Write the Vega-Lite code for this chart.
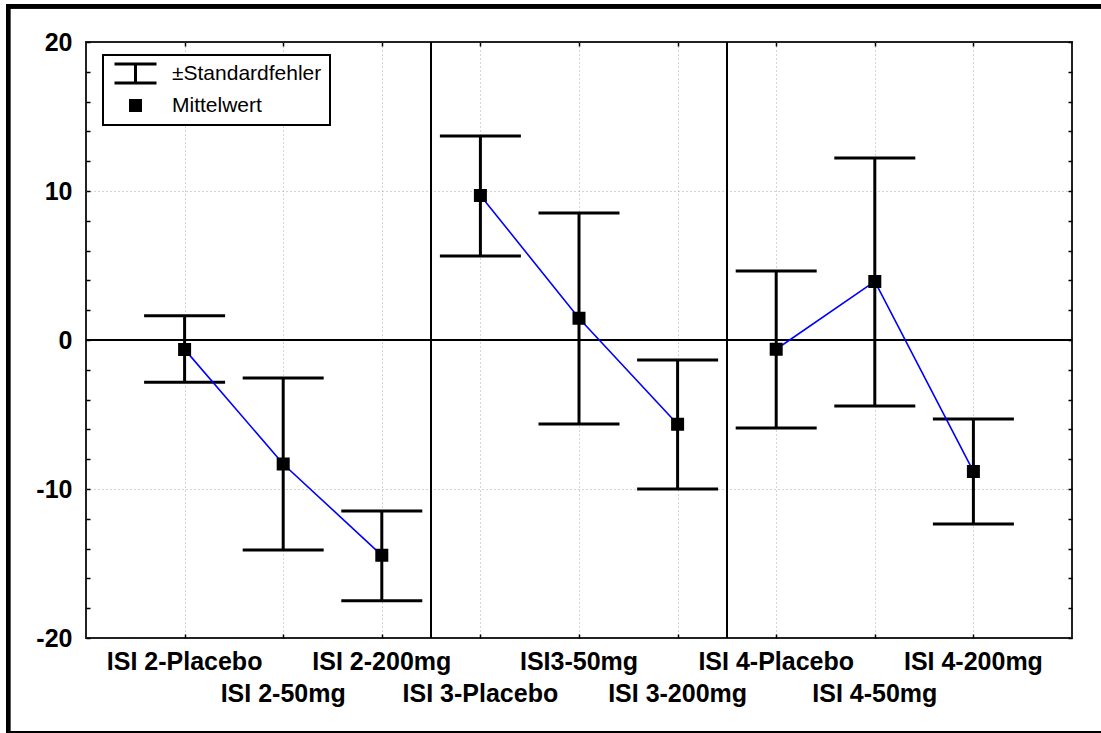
{
  "$schema": "https://vega.github.io/schema/vega-lite/v6.json",
  "width": 986,
  "height": 596,
  "autosize": {"type": "none"},
  "padding": {"left": 86, "top": 42, "right": 29, "bottom": 95},
  "background": "white",
  "config": {
    "view": {"stroke": "#222222", "strokeWidth": 2},
    "font": "Liberation Sans",
    "axis": {"domain": false},
    "legend": {"strokeWidth": 2}
  },
  "data": {
    "values": [
      {"cond": "ISI 2-Placebo", "group": "ISI 2", "idx": 1, "mean": -0.63, "lo": -2.84, "hi": 1.63},
      {"cond": "ISI 2-50mg", "group": "ISI 2", "idx": 2, "mean": -8.32, "lo": -14.09, "hi": -2.55},
      {"cond": "ISI 2-200mg", "group": "ISI 2", "idx": 3, "mean": -14.45, "lo": -17.5, "hi": -11.48},
      {"cond": "ISI 3-Placebo", "group": "ISI 3", "idx": 4, "mean": 9.7, "lo": 5.64, "hi": 13.69},
      {"cond": "ISI3-50mg", "group": "ISI 3", "idx": 5, "mean": 1.46, "lo": -5.64, "hi": 8.52},
      {"cond": "ISI 3-200mg", "group": "ISI 3", "idx": 6, "mean": -5.65, "lo": -10.0, "hi": -1.34},
      {"cond": "ISI 4-Placebo", "group": "ISI 4", "idx": 7, "mean": -0.62, "lo": -5.9, "hi": 4.63},
      {"cond": "ISI 4-50mg", "group": "ISI 4", "idx": 8, "mean": 3.93, "lo": -4.43, "hi": 12.21},
      {"cond": "ISI 4-200mg", "group": "ISI 4", "idx": 9, "mean": -8.82, "lo": -12.35, "hi": -5.3}
    ]
  },
  "resolve": {"axis": {"x": "independent", "y": "independent"}},
  "layer": [
    {
      "mark": {"type": "rule", "color": "black", "strokeWidth": 3},
      "encoding": {
        "x": {
          "field": "idx", "type": "quantitative",
          "scale": {"domain": [0, 10], "nice": false, "zero": false},
          "axis": {
            "orient": "bottom", "title": null, "values": [1, 2, 3, 4, 5, 6, 7, 8, 9],
            "labels": false, "tickSize": -4, "tickColor": "black", "tickWidth": 1.5,
            "grid": true, "gridDash": [1, 3], "gridColor": "#a8a8a8", "gridWidth": 1
          }
        },
        "y": {
          "field": "lo", "type": "quantitative",
          "scale": {"domain": [-20, 20], "nice": false, "zero": false},
          "axis": {
            "orient": "left", "title": null,
            "values": [-20, -18, -16, -14, -12, -10, -8, -6, -4, -2, 0, 2, 4, 6, 8, 10, 12, 14, 16, 18, 20],
            "labelExpr": "datum.value % 10 == 0 ? '' + datum.value : ''",
            "labelFont": "Liberation Sans", "labelFontSize": 25, "labelFontWeight": "bold",
            "labelColor": "black", "labelPadding": 18, "labelOverlap": false, "labelFlush": false, "labelBound": false,
            "tickSize": -4, "tickColor": "black", "tickWidth": 1.5,
            "grid": true, "gridDash": [1, 3], "gridColor": "#a8a8a8", "gridWidth": 1,
            "gridOpacity": {"condition": {"test": "abs(datum.value) == 10", "value": 1}, "value": 0}
          }
        },
        "y2": {"field": "hi"}
      }
    },
    {
      "mark": {"type": "tick", "orient": "horizontal", "size": 81, "thickness": 3, "color": "black", "opacity": 1},
      "encoding": {
        "x": {
          "field": "idx", "type": "quantitative",
          "scale": {"domain": [0, 10], "nice": false, "zero": false},
          "axis": {
            "orient": "top", "title": null, "values": [1, 2, 3, 4, 5, 6, 7, 8, 9],
            "labels": false, "tickSize": -4, "tickColor": "black", "tickWidth": 1.5, "grid": false
          }
        },
        "y": {
          "field": "lo", "type": "quantitative",
          "scale": {"domain": [-20, 20], "nice": false, "zero": false},
          "axis": {
            "orient": "right", "title": null,
            "values": [-20, -18, -16, -14, -12, -10, -8, -6, -4, -2, 0, 2, 4, 6, 8, 10, 12, 14, 16, 18, 20],
            "labels": false, "tickSize": -4, "tickColor": "black", "tickWidth": 1.5, "grid": false
          }
        }
      }
    },
    {
      "mark": {"type": "tick", "orient": "horizontal", "size": 81, "thickness": 3, "color": "black", "opacity": 1},
      "encoding": {
        "x": {"field": "idx", "type": "quantitative", "scale": {"domain": [0, 10], "nice": false, "zero": false}, "axis": null},
        "y": {"field": "hi", "type": "quantitative", "scale": {"domain": [-20, 20], "nice": false, "zero": false}, "axis": null}
      }
    },
    {
      "mark": {"type": "rule", "color": "black", "strokeWidth": 1.5},
      "encoding": {
        "y": {"datum": 0, "type": "quantitative", "scale": {"domain": [-20, 20], "nice": false, "zero": false}, "axis": null}
      }
    },
    {
      "mark": {"type": "rule", "color": "black", "strokeWidth": 1.5},
      "encoding": {
        "x": {"datum": 3.5, "type": "quantitative", "scale": {"domain": [0, 10], "nice": false, "zero": false}, "axis": null}
      }
    },
    {
      "mark": {"type": "rule", "color": "black", "strokeWidth": 1.5},
      "encoding": {
        "x": {"datum": 6.5, "type": "quantitative", "scale": {"domain": [0, 10], "nice": false, "zero": false}, "axis": null}
      }
    },
    {
      "mark": {"type": "line", "color": "#0000ff", "strokeWidth": 1.6},
      "encoding": {
        "x": {"field": "idx", "type": "quantitative", "scale": {"domain": [0, 10], "nice": false, "zero": false}, "axis": null},
        "y": {"field": "mean", "type": "quantitative", "scale": {"domain": [-20, 20], "nice": false, "zero": false}, "axis": null},
        "detail": {"field": "group", "type": "nominal"}
      }
    },
    {
      "mark": {"type": "point", "filled": false, "fill": "black", "stroke": "black", "strokeWidth": 3, "size": 100, "opacity": 1},
      "encoding": {
        "x": {"field": "idx", "type": "quantitative", "scale": {"domain": [0, 10], "nice": false, "zero": false}, "axis": null},
        "y": {"field": "mean", "type": "quantitative", "scale": {"domain": [-20, 20], "nice": false, "zero": false}, "axis": null},
        "shape": {
          "datum": "Mittelwert", "type": "nominal",
          "scale": {
            "domain": ["±Standardfehler", "Mittelwert"],
            "range": ["M-4.2,-1.9H4.2M0,-1.9V1.9M-4.2,1.9H4.2", "square"]
          },
          "legend": {
            "title": null, "orient": "none", "legendX": 17, "legendY": 13,
            "fillColor": "white", "strokeColor": "black",
            "padding": 8, "symbolOffset": 14, "labelOffset": 26, "rowPadding": 5,
            "labelFont": "Liberation Sans", "labelFontSize": 21, "labelColor": "black",
            "symbolSize": 100, "symbolStrokeWidth": 3
          }
        }
      }
    },
    {
      "transform": [{"filter": "datum.idx % 2 == 1"}],
      "mark": {"type": "text", "font": "Liberation Sans", "fontSize": 25, "fontWeight": "bold", "baseline": "middle", "align": "center", "dy": 24, "color": "black"},
      "encoding": {
        "x": {"field": "idx", "type": "quantitative", "scale": {"domain": [0, 10], "nice": false, "zero": false}, "axis": null},
        "y": {"datum": -20, "type": "quantitative", "scale": {"domain": [-20, 20], "nice": false, "zero": false}, "axis": null},
        "text": {"field": "cond"}
      }
    },
    {
      "transform": [{"filter": "datum.idx % 2 == 0"}],
      "mark": {"type": "text", "font": "Liberation Sans", "fontSize": 25, "fontWeight": "bold", "baseline": "middle", "align": "center", "dy": 56, "color": "black"},
      "encoding": {
        "x": {"field": "idx", "type": "quantitative", "scale": {"domain": [0, 10], "nice": false, "zero": false}, "axis": null},
        "y": {"datum": -20, "type": "quantitative", "scale": {"domain": [-20, 20], "nice": false, "zero": false}, "axis": null},
        "text": {"field": "cond"}
      }
    },
    {
      "mark": {"type": "rect", "fill": "transparent", "stroke": "black", "strokeWidth": 4},
      "encoding": {
        "x": {"datum": -0.79, "type": "quantitative", "scale": {"domain": [0, 10], "nice": false, "zero": false}, "axis": null},
        "x2": {"datum": 10.32},
        "y": {"datum": 22.4, "type": "quantitative", "scale": {"domain": [-20, 20], "nice": false, "zero": false}, "axis": null},
        "y2": {"datum": -26.38}
      }
    }
  ]
}
